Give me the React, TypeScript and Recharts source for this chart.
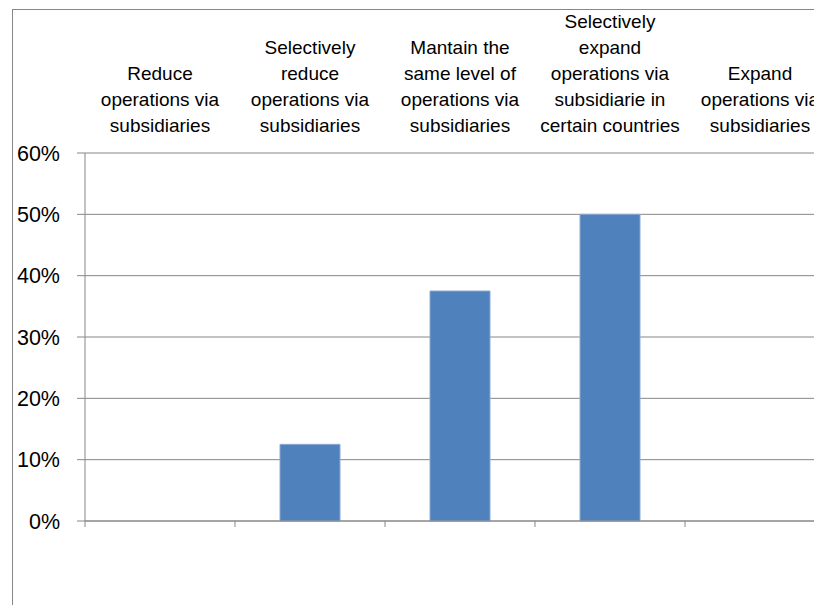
import { BarChart, Bar, XAxis, YAxis, CartesianGrid } from 'recharts';

const categories = [
  ['Reduce', 'operations via', 'subsidiaries'],
  ['Selectively', 'reduce', 'operations via', 'subsidiaries'],
  ['Mantain the', 'same level of', 'operations via', 'subsidiaries'],
  ['Selectively', 'expand', 'operations via', 'subsidiarie in', 'certain countries'],
  ['Expand', 'operations via', 'subsidiaries'],
];
const shares = [0, 12.5, 37.5, 50, 0];
const percentTicks = [0, 10, 20, 30, 40, 50, 60];

const data = categories.map((lines, i) => ({ name: lines.join(' '), lines, value: shares[i] }));

const GRAY = '#878787';

const CategoryTick = (props: any) => {
  const { x, y, index } = props;
  const lines: string[] = data[index].lines;
  const n = lines.length;
  return (
    <text x={x} textAnchor="middle" fontSize={19} fill="#000" fontFamily="Liberation Sans, Arial, sans-serif">
      {lines.map((l, i) => (
        <tspan key={i} x={x} y={y - 21 - (n - 1 - i) * 26}>{l}</tspan>
      ))}
    </text>
  );
};

// tick marks between categories, like Excel
const EdgeTick = (props: any) => {
  const { x, y, index, width, visibleTicksCount } = props;
  const half = (props.payload && props.payload.offset) || width / visibleTicksCount / 2;
  return (
    <g stroke={GRAY}>
      <line x1={x - half} x2={x - half} y1={y} y2={y + 6} />
      {index === visibleTicksCount - 1 && <line x1={x + half} x2={x + half} y1={y} y2={y + 6} />}
    </g>
  );
};

export default function App() {
  return (
    <div style={{ position: 'relative', width: 814, height: 597, overflow: 'hidden' }}>
      <div style={{ position: 'absolute', left: 4, top: 1, width: 900, height: 700, border: `1px solid ${GRAY}` }} />
      <BarChart
        width={860}
        height={597}
        data={data}
        margin={{ top: 5, right: 33, bottom: 74, left: 7 }}
        barCategoryGap="30%"
        style={{ position: 'absolute', left: 0, top: 0 }}
      >
        <CartesianGrid vertical={false} stroke={GRAY} />
        <XAxis
          xAxisId="cat"
          dataKey="name"
          orientation="top"
          height={140}
          axisLine={false}
          tickLine={false}
          tickSize={0}
          tickMargin={0}
          interval={0}
          tick={<CategoryTick />}
        />
        <XAxis
          xAxisId="edges"
          dataKey="name"
          orientation="bottom"
          height={10}
          stroke={GRAY}
          tickLine={false}
          tickSize={0}
          tickMargin={0}
          interval={0}
          tick={<EdgeTick />}
        />
        <YAxis
          domain={[0, 60]}
          ticks={percentTicks}
          width={70}
          stroke={GRAY}
          tickSize={8}
          tickMargin={17}
          tickFormatter={(v) => `${v}%`}
          tick={{ fill: '#000', fontSize: 21.5, fontFamily: 'Liberation Sans, Arial, sans-serif' }}
        />
        <Bar xAxisId="cat" dataKey="value" fill="#4F81BD" stroke="#8EA9D4" isAnimationActive={false} />
      </BarChart>
    </div>
  );
}
